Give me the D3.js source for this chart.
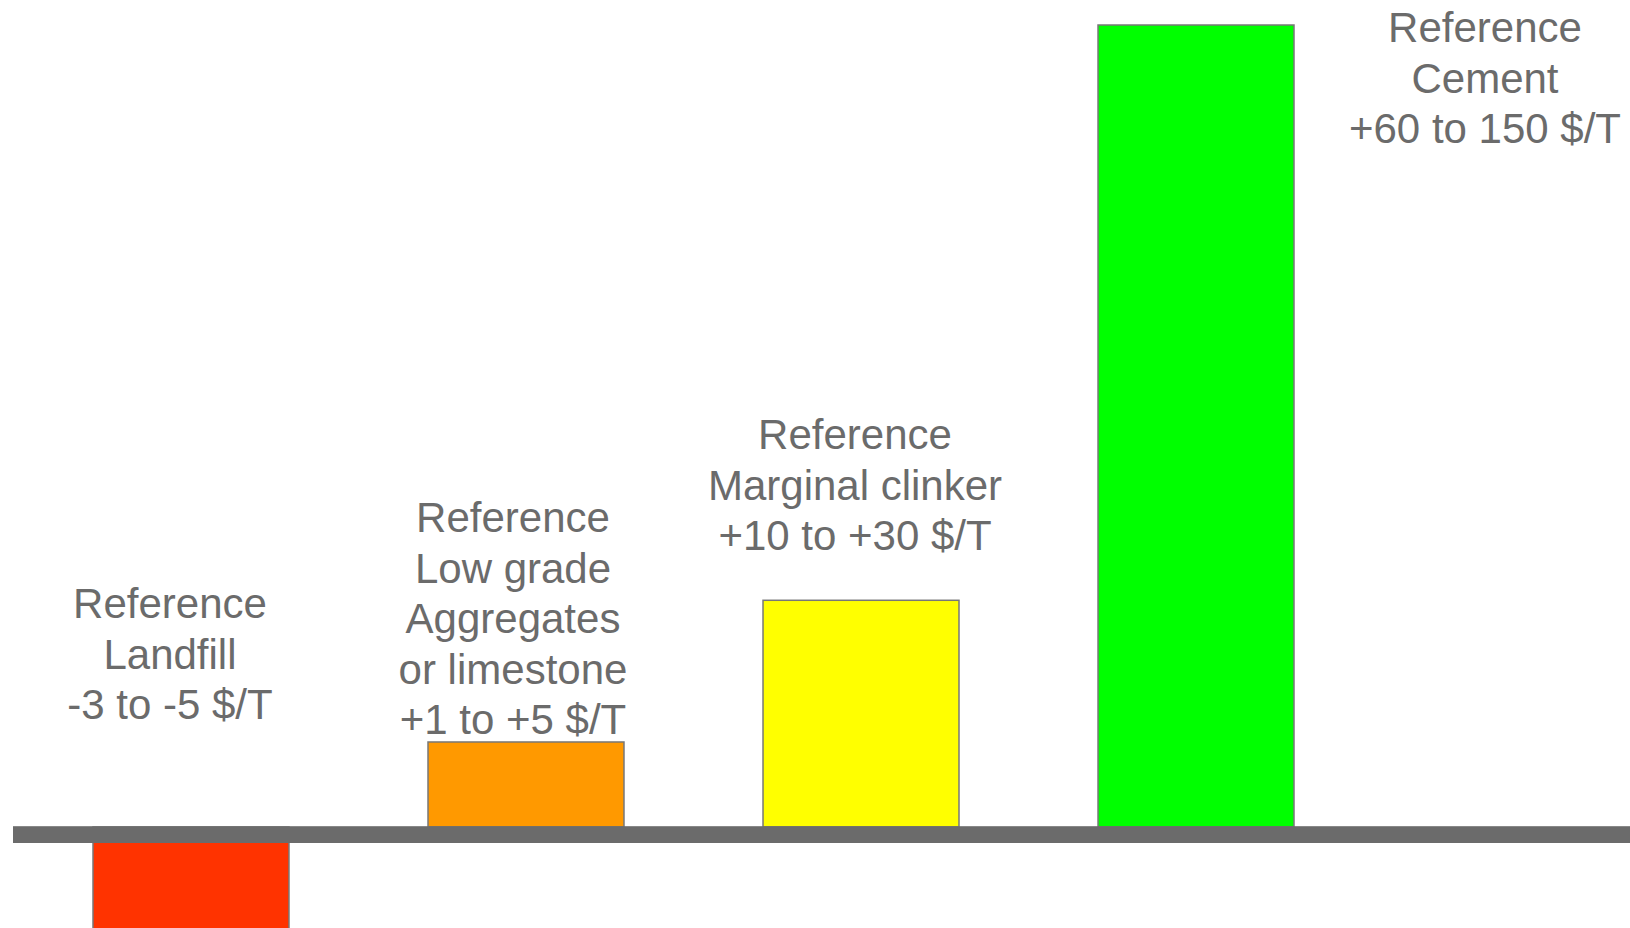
<!DOCTYPE html>
<html>
<head>
<meta charset="utf-8">
<script src="https://cdn.jsdelivr.net/npm/d3@7"></script>
<style>
  html, body { margin: 0; padding: 0; background: #ffffff; }
  svg { display: block; }
  text { font-family: "Liberation Sans", Arial, Helvetica, sans-serif; }
</style>
</head>
<body>
<svg id="chart" width="1630" height="928"></svg>
<script>
// Reference outlets for the material, relative value per tonne (schematic units)
const categories = ["Landfill", "Aggregates", "Clinker", "Cement"];
const values = [-4, 3, 8, 28.3];
const colors = ["#ff3300", "#ff9900", "#ffff00", "#00ff00"];
const labels = [
  ["Reference", "Landfill", "-3 to -5 $/T"],
  ["Reference", "Low grade", "Aggregates", "or limestone", "+1 to +5 $/T"],
  ["Reference", "Marginal clinker", "+10 to +30 $/T"],
  ["Reference", "Cement", "+60 to 150 $/T"]
];

const W = 1630, H = 928;
const svg = d3.select("#chart");

const x = d3.scaleBand()
  .domain(categories)
  .range([93, 1294])
  .paddingInner(0.415)
  .paddingOuter(0);

const y = d3.scaleLinear()
  .domain([0, 28.3])
  .range([827, 25]);

const data = categories.map((c, i) => ({ cat: c, value: values[i], color: colors[i], lines: labels[i] }));

// bars
svg.append("g").selectAll("rect")
  .data(data)
  .join("rect")
  .attr("x", d => x(d.cat))
  .attr("width", x.bandwidth())
  .attr("y", d => y(Math.max(0, d.value)))
  .attr("height", d => Math.abs(y(d.value) - y(0)))
  .attr("fill", d => d.color)
  .attr("stroke", "#777777")
  .attr("stroke-width", 1.5);

// baseline band (covers the bar edges sitting on zero)
svg.append("rect")
  .attr("x", 13)
  .attr("y", y(0) - 0.8)
  .attr("width", W - 13)
  .attr("height", 16.8)
  .attr("fill", "#6b6b6b");

// label placement: centre x offset from bar centre, baseline of first line
const labelLayout = [
  { dx: -21, top: 618 },
  { dx: -13, top: 532 },
  { dx: -6, top: 449 },
  { dx: 289, top: 42 }
];
const lineGap = 50.5;

const lg = svg.append("g")
  .attr("font-size", 42)
  .attr("fill", "#6b6b6b")
  .attr("text-anchor", "middle");

data.forEach((d, i) => {
  const cx = x(d.cat) + x.bandwidth() / 2 + labelLayout[i].dx;
  const t = lg.append("text").attr("x", cx).attr("y", labelLayout[i].top);
  t.selectAll("tspan")
    .data(d.lines)
    .join("tspan")
    .attr("x", cx)
    .attr("dy", (s, k) => k === 0 ? 0 : lineGap)
    .text(s => s);
});
</script>
</body>
</html>
